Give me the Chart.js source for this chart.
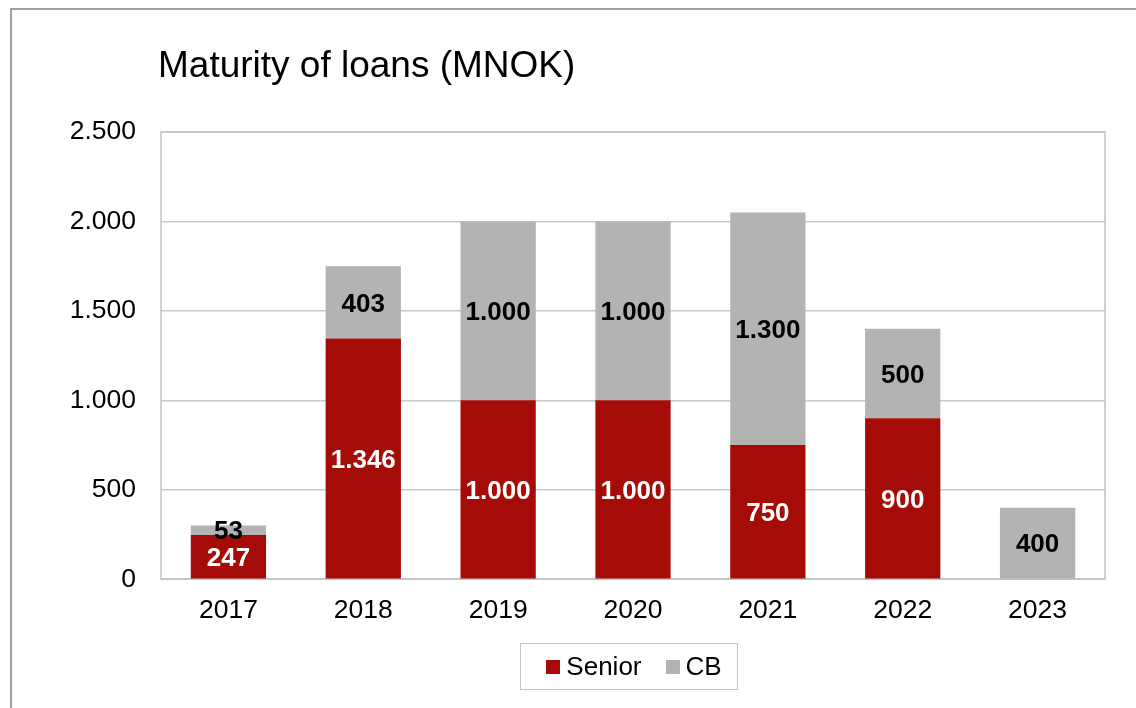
<!DOCTYPE html>
<html>
<head>
<meta charset="utf-8">
<title>Maturity of loans (MNOK)</title>
<script src="https://cdn.jsdelivr.net/npm/chart.js@4/dist/chart.umd.min.js"></script>
<style>
    html, body { margin: 0; padding: 0; background: #fff; }
    #wrap { position: relative; width: 1136px; height: 708px; overflow: hidden; }
    #legend {
        position: absolute; left: 520px; top: 643px; width: 206px; height: 45px; padding-left: 10px;
        border: 1px solid #c4c4c4; display: flex; align-items: center; justify-content: center;
        font-family: 'Liberation Sans', Arial, sans-serif; font-size: 26px; color: #000;
    }
    #legend .item { display: flex; align-items: center; margin: 0 12px; }
    #legend .box { width: 14px; height: 14px; margin-right: 6px; }
</style>
</head>
<body>
<div id="wrap">
    <canvas id="chart" width="1136" height="708"></canvas>
    <div id="legend"></div>
</div>
<script>
// Loans maturing per year, MNOK
const years = ['2017', '2018', '2019', '2020', '2021', '2022', '2023'];
const seniorValues = [247, 1346, 1000, 1000, 750, 900, 0];
const cbValues = [53, 403, 1000, 1000, 1300, 500, 400];
const yTicks = [0, 500, 1000, 1500, 2000, 2500];

const FONT = "'Liberation Sans', Arial, sans-serif";
const RED = '#a50b07';
const GREY = '#b3b3b3';

// Norwegian style thousands separator: 1.346
function fmt(v) {
    return String(v).replace(/\B(?=(\d{3})+(?!\d))/g, '.');
}

// Outer frame, title and the plot area border
const framePlugin = {
    id: 'frame',
    beforeDraw(chart) {
        const ctx = chart.ctx;
        ctx.save();
        ctx.strokeStyle = '#808080';
        ctx.lineWidth = 1.5;
        ctx.strokeRect(11, 9, chart.width + 20, chart.height + 20);
        ctx.fillStyle = '#000';
        ctx.font = '37px ' + FONT;
        ctx.textBaseline = 'alphabetic';
        ctx.fillText('Maturity of loans (MNOK)', 158, 77);
        ctx.restore();
    },
    beforeDatasetsDraw(chart) {
        const a = chart.chartArea;
        const ctx = chart.ctx;
        ctx.save();
        ctx.strokeStyle = '#c4c4c4';
        ctx.lineWidth = 1.5;
        ctx.strokeRect(a.left, a.top, a.right - a.left, a.bottom - a.top);
        ctx.restore();
    }
};

// Value labels centred in each bar segment
const valueLabels = {
    id: 'valueLabels',
    afterDatasetsDraw(chart) {
        const ctx = chart.ctx;
        ctx.save();
        ctx.font = 'bold 26px ' + FONT;
        ctx.textAlign = 'center';
        ctx.textBaseline = 'middle';
        chart.data.datasets.forEach((ds, i) => {
            chart.getDatasetMeta(i).data.forEach((bar, j) => {
                const v = ds.data[j];
                if (!v) return;
                const c = bar.getCenterPoint();
                ctx.fillStyle = ds.labelColor;
                ctx.fillText(fmt(v), c.x, c.y + 2);
            });
        });
        ctx.restore();
    }
};

const chart = new Chart(document.getElementById('chart'), {
    type: 'bar',
    data: {
        labels: years,
        datasets: [
            { label: 'Senior', data: seniorValues, backgroundColor: RED, labelColor: '#fff' },
            { label: 'CB', data: cbValues, backgroundColor: GREY, labelColor: '#000' }
        ]
    },
    options: {
        responsive: false,
        animation: false,
        layout: { padding: { left: 20, right: 31, top: 132, bottom: 65 } },
        datasets: {
            bar: { barPercentage: 0.558, categoryPercentage: 1, borderWidth: 0 }
        },
        scales: {
            x: {
                stacked: true,
                grid: { display: false, drawTicks: false },
                border: { display: false },
                ticks: { color: '#000', font: { family: FONT, size: 26.5 }, padding: 16 }
            },
            y: {
                stacked: true,
                min: 0,
                max: 2500,
                afterFit(scale) { scale.width = 141; },
                afterBuildTicks(scale) { scale.ticks = yTicks.map(v => ({ value: v })); },
                grid: { color: '#c8c8c8', lineWidth: 1.5, drawTicks: false },
                border: { display: false },
                ticks: {
                    color: '#000',
                    font: { family: FONT, size: 26.5 },
                    padding: 25,
                    callback: v => fmt(v)
                }
            }
        },
        plugins: {
            legend: { display: false },
            tooltip: { enabled: false }
        }
    },
    plugins: [framePlugin, valueLabels]
});

// HTML legend built from the chart's own legend items
const legendEl = document.getElementById('legend');
chart.options.plugins.legend.labels.generateLabels(chart).forEach(item => {
    const el = document.createElement('div');
    el.className = 'item';
    const box = document.createElement('span');
    box.className = 'box';
    box.style.background = item.fillStyle;
    el.appendChild(box);
    el.appendChild(document.createTextNode(item.text));
    legendEl.appendChild(el);
});
</script>
</body>
</html>
